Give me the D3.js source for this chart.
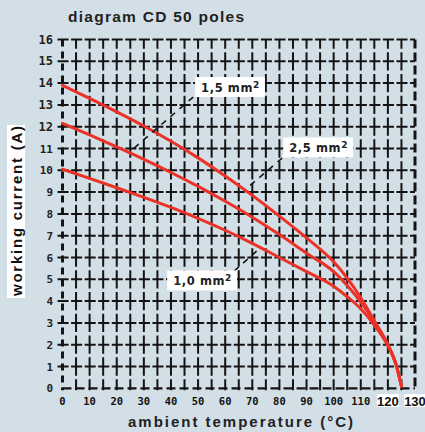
<!DOCTYPE html>
<html><head><meta charset="utf-8">
<script src="https://cdn.jsdelivr.net/npm/d3@7"></script>
<style>
html,body{margin:0;padding:0;background:#d3dfe7;}
svg{display:block;}
</style></head>
<body>
<svg id="c" width="425" height="432"></svg>
<script>
// ---- data ----
const temps = [0,10,20,30,40,50,60,70,80,90,100,105,110,115,120,123,125];
const curveTop    = [13.9,13.3,12.68,12.03,11.33,10.57,9.74,8.85,7.9,6.9,5.8,5.05,4.15,3.1,2.0,1.1,0.1];
const curveMiddle = [12.15,11.62,11.07,10.5,9.9,9.26,8.58,7.85,7.05,6.2,5.35,4.72,3.95,3.05,2.0,1.1,0.1];
const curveBottom = [10.05,9.63,9.2,8.76,8.3,7.8,7.25,6.65,6.0,5.35,4.68,4.2,3.65,2.9,1.95,1.1,0.1];
const xTicks = [0,10,20,30,40,50,60,70,80,90,100,110,120,130];
const yTicks = [0,1,2,3,4,5,6,7,8,9,10,11,12,13,14,15,16];
const labels = [
  {text:"1,5 mm", x:48.9, y:13.82},
  {text:"2,5 mm", x:81.4, y:11.05},
  {text:"1,0 mm", x:38.6, y:4.95}
];
const leaders = [
  [[48.2,13.36],[25.3,10.9]],
  [[81.0,10.56],[68.1,9.19]],
  [[63.3,5.38],[72.1,6.35]]
];
const title = "diagram CD 50 poles";
const xTitle = "ambient temperature (°C)";
const yTitle = "working current (A)";

// ---- layout ----
const svg = d3.select("#c");
const x = d3.scaleLinear().domain([0,130]).range([62.5,415]);
const y = d3.scaleLinear().domain([0,16]).range([388.3,39.5]);
const ink = "#141414";
const red = "#ec3127";

const hStep = x(5)-x(0);
const vStep = y(0)-y(1);
const g = svg.append("g");
// grid: horizontal
g.selectAll("line.h").data(yTicks.filter(v=>v>0)).join("line")
  .attr("x1",56).attr("x2",x(130)).attr("y1",d=>y(d)).attr("y2",d=>y(d))
  .attr("stroke",ink).attr("stroke-width",2)
  .attr("stroke-dasharray",`${hStep-2.5},2.5`).attr("stroke-dashoffset",-(hStep/2+1.25-(x(0)-56)));
// grid: vertical
const vx = d3.range(5,130,5);
g.selectAll("line.v").data(vx).join("line")
  .attr("x1",d=>x(d)).attr("x2",d=>x(d)).attr("y1",y(16)).attr("y2",y(0)+2)
  .attr("stroke",ink).attr("stroke-width",2)
  .attr("stroke-dasharray",`${vStep-3.5},3.5`).attr("stroke-dashoffset",-(vStep/2+1.75));
// bottom line
g.append("line").attr("x1",x(0)).attr("x2",x(130)).attr("y1",y(0)).attr("y2",y(0))
  .attr("stroke",ink).attr("stroke-width",2.2).attr("stroke-dasharray","9,4");
// left axis heavy dashed
g.append("line").attr("x1",x(0)).attr("x2",x(0)).attr("y1",y(16)).attr("y2",y(0)+2)
  .attr("stroke",ink).attr("stroke-width",3).attr("stroke-dasharray","7,5");
// right border heavy dashed
g.append("line").attr("x1",x(130)).attr("x2",x(130)).attr("y1",y(16)).attr("y2",y(0)+2)
  .attr("stroke",ink).attr("stroke-width",3).attr("stroke-dasharray","9,4");

// tick labels y
svg.append("g").selectAll("text").data(yTicks).join("text")
  .attr("x",53).attr("y",d=>y(d)+4).attr("text-anchor","end")
  .attr("font-family","DejaVu Sans Mono").attr("font-weight","bold")
  .attr("font-size",d=>d>=12?12:11).attr("fill","#222").text(d=>d);
// tick labels x
const xl = svg.append("g");
xTicks.forEach(d=>{
  const big = d>=120;
  if(big){
    xl.append("rect").attr("x",x(d)-11).attr("y",394).attr("width",22).attr("height",13).attr("fill","#fff");
  }
  xl.append("text").attr("x",x(d)).attr("y",big?406:405).attr("text-anchor","middle")
    .attr("font-family",big?"Liberation Sans Narrow, Liberation Sans":"DejaVu Sans Mono")
    .attr("font-weight","bold").attr("font-size",big?13:10.5).attr("fill","#111").text(d);
});

// curves
const line = d3.line().x(d=>x(d[0])).y(d=>y(d[1])).curve(d3.curveMonotoneX);
[curveBottom,curveMiddle,curveTop].forEach(s=>{
  svg.append("path").datum(temps.map((t,i)=>[t,s[i]]))
    .attr("d",line).attr("fill","none").attr("stroke",red).attr("stroke-width",3)
    .attr("stroke-linecap","round");
});

// leaders
leaders.forEach(p=>{
  svg.append("line").attr("x1",x(p[0][0])).attr("y1",y(p[0][1])).attr("x2",x(p[1][0])).attr("y2",y(p[1][1]))
    .attr("stroke",ink).attr("stroke-width",1.6).attr("stroke-dasharray","6,6");
});
// labels
labels.forEach(l=>{
  const tx = x(l.x), ty = y(l.y);
  const lg = svg.append("g");
  const t = lg.append("text").attr("x",tx+6).attr("y",ty+4.5)
    .attr("font-family","DejaVu Sans").attr("font-weight","bold").attr("font-size",11.5)
    .attr("letter-spacing",0.6).attr("fill","#222");
  t.append("tspan").text(l.text);
  t.append("tspan").attr("dy",-4).attr("font-size",9).text("2");
  const bb = t.node().getBBox();
  lg.insert("rect","text").attr("x",tx).attr("y",ty-10).attr("width",bb.width+11).attr("height",20).attr("fill","#fff");
});

// titles
svg.append("text").attr("x",68).attr("y",22).attr("font-family","Liberation Sans").attr("font-weight","bold")
  .attr("font-size",15.5).attr("textLength",176).attr("lengthAdjust","spacing").attr("fill","#222").text(title);
svg.append("text").attr("x",128).attr("y",427).attr("font-family","Liberation Sans").attr("font-weight","bold")
  .attr("font-size",15).attr("textLength",225).attr("lengthAdjust","spacing").attr("fill","#222").text(xTitle);
svg.append("rect").attr("x",7).attr("y",125).attr("width",18).attr("height",173).attr("fill","#fff");
svg.append("text").attr("transform","translate(21.5,211) rotate(-90)").attr("text-anchor","middle")
  .attr("font-family","Liberation Sans").attr("font-weight","bold").attr("font-size",15)
  .attr("textLength",170).attr("lengthAdjust","spacing").attr("fill","#111").text(yTitle);
</script>
</body></html>
